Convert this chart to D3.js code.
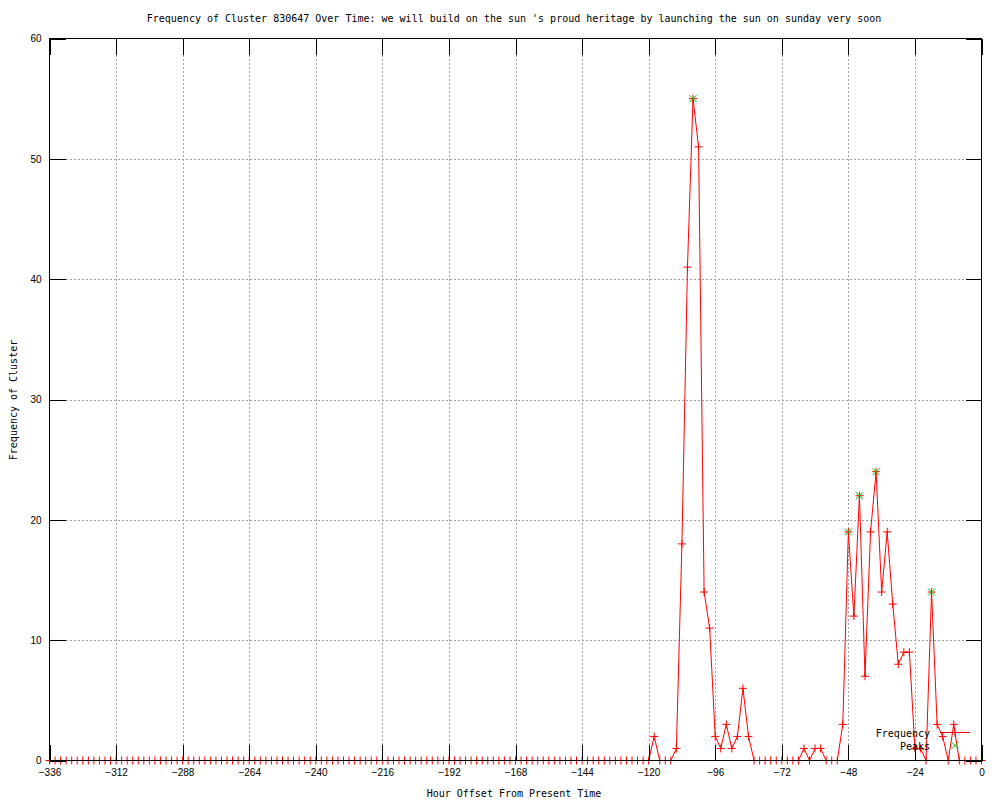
<!DOCTYPE html>
<html>
<head>
<meta charset="utf-8">
<script src="https://cdn.jsdelivr.net/npm/d3@7"></script>
<style>
    body { margin: 0; background: #ffffff; }
    svg { display: block; font-family: "DejaVu Sans Mono", "Liberation Mono", monospace; }
    .axis text { font-size: 10px; fill: #000000; }
    .grid line { stroke: #a0a0a0; stroke-dasharray: 2,2; shape-rendering: crispEdges; }
    .ticks line { stroke: #000000; shape-rendering: crispEdges; }
</style>
</head>
<body>
<div id="chart"></div>
<script>
// hours before present, one sample every 2 hours
const hours = d3.range(-336, 1, 2);

// cluster frequency per sample (-336 ... 0)
const frequency = [
    0, 0, 0, 0, 0, 0, 0, 0, 0, 0, 0, 0,
    0, 0, 0, 0, 0, 0, 0, 0, 0, 0, 0, 0,
    0, 0, 0, 0, 0, 0, 0, 0, 0, 0, 0, 0,
    0, 0, 0, 0, 0, 0, 0, 0, 0, 0, 0, 0,
    0, 0, 0, 0, 0, 0, 0, 0, 0, 0, 0, 0,
    0, 0, 0, 0, 0, 0, 0, 0, 0, 0, 0, 0,
    0, 0, 0, 0, 0, 0, 0, 0, 0, 0, 0, 0,
    0, 0, 0, 0, 0, 0, 0, 0, 0, 0, 0, 0,
    0, 0, 0, 0, 0, 0, 0, 0, 0, 0, 0, 0,
    0, 2, 0, 0, 0, 1, 18, 41, 55, 51, 14, 11,
    2, 1, 3, 1, 2, 6, 2, 0, 0, 0, 0, 0,
    0, 0, 0, 0, 1, 0, 1, 1, 0, 0, 0, 3,
    19, 12, 22, 7, 19, 24, 14, 19, 13, 8, 9, 9,
    1, 1, 0, 14, 3, 2, 0, 3, 0, 0, 0, 0,
    0
];

const peakHours = [-104, -48, -44, -38, -18];
const peakValues = [55, 19, 22, 24, 14];

const xTicks = [-336, -312, -288, -264, -240, -216, -192, -168, -144, -120, -96, -72, -48, -24, 0];
const yTicks = [0, 10, 20, 30, 40, 50, 60];

const titleText = "Frequency of Cluster 830647 Over Time: we will build on the sun 's proud heritage by launching the sun on sunday very soon";
const xLabel = "Hour Offset From Present Time";
const yLabel = "Frequency of Cluster";

const width = 1000,
    height = 800,
    plotLeft = 49.5,
    plotRight = 981.5,
    plotTop = 38.5,
    plotBottom = 760.5,
    tickLen = 16;

const red = "#ff0000",
    green = "#00c000";

const x = d3.scaleLinear().domain([-336, 0]).range([plotLeft, plotRight]);
const y = d3.scaleLinear().domain([0, 60]).range([plotBottom, plotTop]);

const svg = d3.select("#chart").append("svg")
    .attr("width", width)
    .attr("height", height);

// Grid (inner lines only)
svg.append("g")
    .classed("grid", true)
    .attr("transform", "translate(0," + plotBottom + ")")
    .call(d3.axisBottom(x)
        .tickValues(xTicks.filter(d => d !== -336 && d !== 0))
        .tickSize(-(plotBottom - plotTop))
        .tickFormat(""))
    .call(g => g.select(".domain").remove());
svg.append("g")
    .classed("grid", true)
    .attr("transform", "translate(" + plotLeft + ",0)")
    .call(d3.axisLeft(y)
        .tickValues(yTicks.filter(d => d !== 0 && d !== 60))
        .tickSize(-(plotRight - plotLeft))
        .tickFormat(""))
    .call(g => g.select(".domain").remove());

// Frequency line
const line = d3.line()
    .x((d, i) => x(hours[i]))
    .y(d => y(d));
svg.append("path")
    .datum(frequency)
    .attr("fill", "none")
    .attr("stroke", red)
    .attr("stroke-width", 1)
    .attr("d", line);

const plusPath = (cx, cy) => "M" + (cx - 4) + "," + cy + "h8M" + cx + "," + (cy - 4) + "v8";
const crossPath = (cx, cy) => "M" + (cx - 3.5) + "," + (cy - 3.5) + "l7,7M" + (cx - 3.5) + "," + (cy + 3.5) + "l7,-7";

svg.append("g").selectAll("path")
    .data(frequency)
    .join("path")
    .attr("d", (d, i) => plusPath(x(hours[i]), y(d)))
    .attr("stroke", red)
    .attr("fill", "none");

// Peaks
svg.append("g").selectAll("path")
    .data(peakValues)
    .join("path")
    .attr("d", (d, i) => crossPath(x(peakHours[i]), y(d)))
    .attr("stroke", green)
    .attr("fill", "none");

// Axes with inward ticks on all four sides
svg.append("g")
    .classed("axis ticks", true)
    .attr("transform", "translate(0," + plotBottom + ")")
    .call(d3.axisBottom(x)
        .tickValues(xTicks)
        .tickSizeInner(-tickLen)
        .tickSizeOuter(0)
        .tickPadding(8))
    .call(g => g.select(".domain").remove());
svg.append("g")
    .classed("axis ticks", true)
    .attr("transform", "translate(0," + plotTop + ")")
    .call(d3.axisTop(x)
        .tickValues(xTicks)
        .tickSizeInner(-tickLen)
        .tickSizeOuter(0)
        .tickFormat(""))
    .call(g => g.select(".domain").remove());
svg.append("g")
    .classed("axis ticks", true)
    .attr("transform", "translate(" + plotLeft + ",0)")
    .call(d3.axisLeft(y)
        .tickValues(yTicks)
        .tickSizeInner(-tickLen)
        .tickSizeOuter(0)
        .tickPadding(8))
    .call(g => g.select(".domain").remove());
svg.append("g")
    .classed("axis ticks", true)
    .attr("transform", "translate(" + plotRight + ",0)")
    .call(d3.axisRight(y)
        .tickValues(yTicks)
        .tickSizeInner(-tickLen)
        .tickSizeOuter(0)
        .tickFormat(""))
    .call(g => g.select(".domain").remove());

svg.append("rect")
    .attr("x", plotLeft)
    .attr("y", plotTop)
    .attr("width", plotRight - plotLeft)
    .attr("height", plotBottom - plotTop)
    .attr("fill", "none")
    .attr("stroke", "#000000")
    .attr("shape-rendering", "crispEdges");

// Titles
svg.append("text")
    .attr("x", 514)
    .attr("y", 22)
    .attr("text-anchor", "middle")
    .attr("font-size", 10)
    .text(titleText);
svg.append("text")
    .attr("x", 514)
    .attr("y", 797)
    .attr("text-anchor", "middle")
    .attr("font-size", 10)
    .text(xLabel);
svg.append("text")
    .attr("transform", "translate(17,400) rotate(-90)")
    .attr("text-anchor", "middle")
    .attr("font-size", 10)
    .text(yLabel);

// Legend
const key = svg.append("g");
key.append("text")
    .attr("x", 930)
    .attr("y", 736.5)
    .attr("text-anchor", "end")
    .attr("font-size", 10)
    .text("Frequency");
key.append("text")
    .attr("x", 930)
    .attr("y", 749.5)
    .attr("text-anchor", "end")
    .attr("font-size", 10)
    .text("Peaks");
key.append("path")
    .attr("d", "M940,732.5h30")
    .attr("stroke", red);
key.append("path")
    .attr("d", plusPath(955, 732.5))
    .attr("stroke", red);
key.append("path")
    .attr("d", crossPath(955, 745.5))
    .attr("stroke", green)
    .attr("fill", "none");
</script>
</body>
</html>
